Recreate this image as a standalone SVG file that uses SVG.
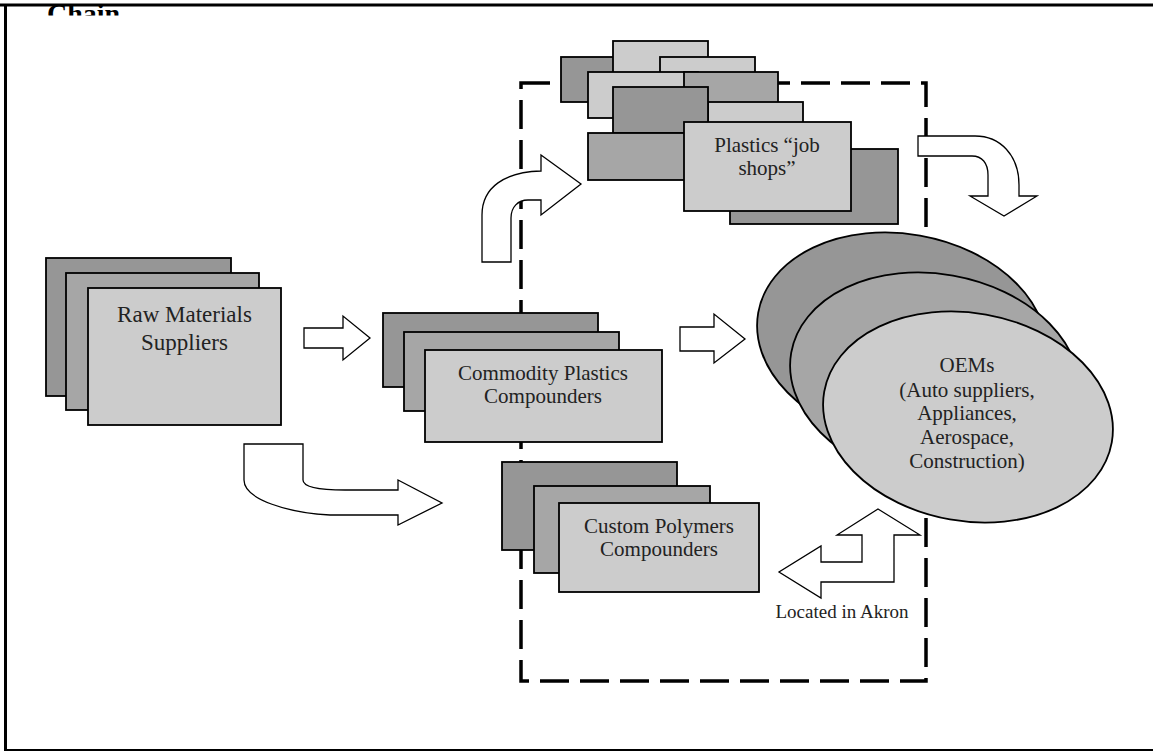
<svg xmlns="http://www.w3.org/2000/svg" width="1153" height="753" viewBox="0 0 1153 753">
<style>
.d{fill:#969696;stroke:#000;stroke-width:1.8}
.m{fill:#a6a6a6;stroke:#000;stroke-width:1.8}
.l{fill:#cccccc;stroke:#000;stroke-width:1.8}
.arr{fill:#fff;stroke:#000;stroke-width:1.3;stroke-linejoin:miter}
.t{font-family:"Liberation Serif","Times New Roman",serif;font-size:21px;fill:#222;text-anchor:middle}
</style>
<defs>
<clipPath id="tc"><rect x="0" y="0" width="300" height="15.5"/></clipPath>
</defs>
<rect x="0" y="0" width="1153" height="753" fill="#fff"/>
<g id="frame" fill="none" stroke="#000">
<line x1="0" y1="5" x2="1153" y2="5" stroke-width="3"/>
<line x1="5.5" y1="4" x2="5.5" y2="751" stroke-width="3"/>
<line x1="5" y1="750" x2="1153" y2="750" stroke-width="2"/>
</g>
<text x="47" y="23" clip-path="url(#tc)" style="font-family:'Liberation Serif',serif;font-size:28px;font-weight:bold;fill:#000">Chain</text>
<g id="akron-box">
<rect x="521" y="83" width="405" height="598" fill="none" stroke="#000" stroke-width="3.5" stroke-dasharray="29 11"/>
</g>
<g id="raw-materials">
<rect class="d" x="46" y="258" width="185" height="138"/>
<rect class="m" x="66" y="273" width="193" height="137"/>
<rect class="l" x="88" y="288" width="193" height="137"/>
<text class="t" x="184.5" y="322" style="font-size:23px">Raw Materials</text>
<text class="t" x="184.5" y="350" style="font-size:23px">Suppliers</text>
</g>
<g id="commodity">
<rect class="d" x="383" y="313" width="215" height="74"/>
<rect class="m" x="404" y="332" width="215" height="79"/>
<rect class="l" x="425" y="350" width="237" height="92"/>
<text class="t" x="543" y="380">Commodity Plastics</text>
<text class="t" x="543" y="403">Compounders</text>
</g>
<g id="custom">
<rect class="d" x="502" y="462" width="175" height="88"/>
<rect class="m" x="534" y="486" width="176" height="87"/>
<rect class="l" x="559" y="503" width="200" height="89"/>
<text class="t" x="659" y="533">Custom Polymers</text>
<text class="t" x="659" y="556">Compounders</text>
</g>
<g id="job-shops">
<rect class="d" x="561" y="57" width="95" height="45"/>
<rect class="l" x="613" y="41" width="95" height="45"/>
<rect class="l" x="660" y="57" width="95" height="45"/>
<rect class="l" x="588" y="72" width="110" height="46"/>
<rect class="m" x="684" y="72" width="94" height="45"/>
<rect class="l" x="708" y="102" width="95" height="45"/>
<rect class="d" x="613" y="87" width="95" height="46"/>
<rect class="m" x="588" y="133" width="110" height="47"/>
<rect class="d" x="730" y="149" width="168" height="75"/>
<rect class="l" x="684" y="122" width="167" height="89"/>
<text class="t" x="767" y="152">Plastics “job</text>
<text class="t" x="767" y="175">shops”</text>
</g>
<g id="oems">
<ellipse class="d" cx="902" cy="338" rx="146" ry="104" transform="rotate(10 902 338)"/>
<ellipse class="m" cx="935" cy="378" rx="146" ry="104" transform="rotate(10 935 378)"/>
<ellipse class="l" cx="968" cy="417" rx="146" ry="104" transform="rotate(10 968 417)"/>
<text class="t" x="967" y="372">OEMs</text>
<text class="t" x="967" y="397">(Auto suppliers,</text>
<text class="t" x="967" y="420">Appliances,</text>
<text class="t" x="967" y="444">Aerospace,</text>
<text class="t" x="967" y="468">Construction)</text>
</g>
<g id="connectors">
<path class="arr" d="M304,328 L343,328 L343,316 L370,338 L343,360 L343,348 L304,348 Z"/>
<path class="arr" d="M680,327 L714,327 L714,314 L745,339 L714,363 L714,351 L680,351 Z"/>
<path class="arr" d="M244,444 L303,444 L303,480 C303,487 320,490 345,490 L398,490 L398,480 L442,503 L398,525 L398,515 L330,515 C290,513 244,500 244,480 Z"/>
<path class="arr" d="M482,262 L482,215 C482,187 505,172 541,171 L541,155 L581,184 L541,215 L541,200 L528,200 C518,200 511,207 511,218 L511,262 Z"/>
<path class="arr" d="M918,136 L975,136 C1000,136 1019,155 1019,185 L1019,196 L1037,196 L1004,216 L970,196 L988,196 L988,175 C988,163 982,156 972,156 L918,156 Z"/>
<path class="arr" d="M878,509 L920,535 L894,535 L894,582 L821,582 L821,598 L779,572 L821,546 L821,562 L862,562 L862,535 L837,535 Z"/>
</g>
<text x="842" y="618" style="font-family:'Liberation Serif',serif;font-size:19px;fill:#222;text-anchor:middle">Located in Akron</text>
</svg>
